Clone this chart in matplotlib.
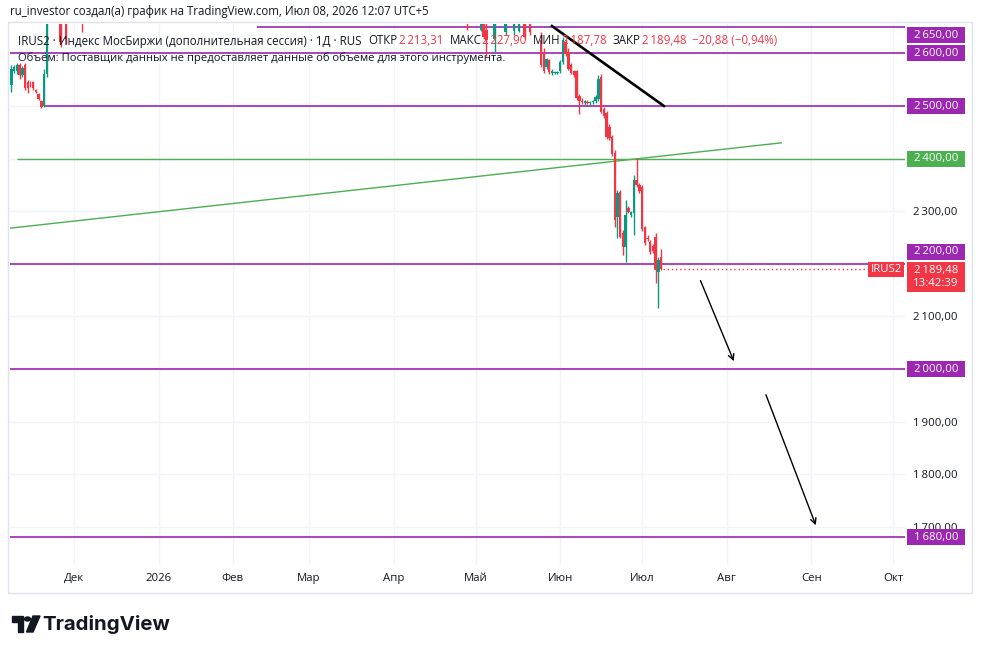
import numpy as np
import pandas as pd
import matplotlib
matplotlib.use("Agg")
import matplotlib.pyplot as plt
import matplotlib.transforms as mtransforms
from matplotlib.patches import Rectangle, Polygon, Circle

plt.rcParams["font.family"] = ["Open Sans", "DejaVu Sans"]
plt.rcParams["font.size"] = 8

RED = "#f23645"
GREEN = "#089981"
PURPLE = "#9c27b0"
LGREEN = "#4caf50"
TXT = "#131722"

# ноябрь 2025, свечи подряд по дням
nov_start = "2025-11-08"
nov_open = [2540, 2566, 2567, 2578, 2559, 2578, 2545, 2542, 2546, 2531, 2522, 2510, 2500, 2560]
nov_high = [2578, 2578, 2582, 2582, 2577, 2582, 2549, 2548, 2548, 2533, 2524, 2512, 2570, 2700]
nov_low = [2526, 2562, 2560, 2551, 2555, 2530, 2524, 2536, 2530, 2524, 2512, 2497, 2498, 2555]
nov_close = [2570, 2575, 2578, 2559, 2572, 2534, 2535, 2541, 2534, 2526, 2514, 2499, 2560, 2690]

# свечи, которые лишь краем видны у верхней границы
top_dates = ["2025-11-26", "2025-11-28", "2025-12-04", "2026-04-28", "2026-05-03", "2026-05-04",
             "2026-05-05", "2026-05-08", "2026-05-12", "2026-05-15", "2026-05-17", "2026-05-19",
             "2026-05-21"]
top_open = [2700, 2710, 2690, 2652, 2645, 2670, 2645, 2628, 2640, 2643, 2643, 2670, 2670]
top_high = [2710, 2720, 2700, 2660, 2660, 2680, 2660, 2680, 2680, 2665, 2670, 2680, 2680]
top_low = [2612, 2618, 2640, 2645, 2642, 2628, 2595, 2600, 2635, 2635, 2640, 2628, 2635]
top_close = [2622, 2628, 2680, 2648, 2655, 2632, 2625, 2670, 2670, 2660, 2665, 2632, 2640]

# 25 мая - 8 июля 2026, подряд по дням
main_start = "2026-05-25"
main_open = [2625, 2600, 2574, 2587, 2562, 2562, 2563,
             2566, 2584, 2621, 2603, 2578, 2566, 2566, 2519, 2510, 2506, 2508, 2505, 2507, 2509, 2513,
             2555, 2494, 2487, 2460, 2441, 2411, 2289, 2336, 2259, 2232, 2306, 2293, 2297, 2359, 2350,
             2346, 2270, 2249, 2241, 2234, 2251, 2184, 2213.31]
main_high = [2640, 2610, 2592, 2590, 2570, 2566, 2567,
             2588, 2631, 2628, 2610, 2582, 2568, 2568, 2522, 2515, 2512, 2511, 2509, 2512, 2521, 2559,
             2560, 2498, 2490, 2465, 2445, 2416, 2340, 2340, 2264, 2321, 2310, 2300, 2369, 2401, 2353,
             2350, 2272, 2254, 2245, 2238, 2259, 2213, 2227.90]
main_low = [2575, 2562, 2570, 2560, 2558, 2560, 2561,
            2563, 2580, 2595, 2568, 2561, 2556, 2512, 2485, 2503, 2502, 2503, 2502, 2504, 2505, 2510,
            2486, 2478, 2438, 2436, 2405, 2270, 2249, 2249, 2217, 2203, 2296, 2289, 2255, 2346, 2334,
            2262, 2236, 2244, 2218, 2220, 2163, 2116, 2187.78]
main_close = [2578, 2566, 2589, 2565, 2566, 2564, 2565,
              2584, 2625, 2599, 2571, 2563, 2559, 2515, 2509, 2508, 2509, 2505, 2507, 2510, 2518, 2551,
              2489, 2481, 2441, 2439, 2408, 2283, 2335, 2251, 2232, 2293, 2298, 2298, 2359, 2350, 2338,
              2266, 2240, 2247, 2222, 2225, 2188, 2207, 2189.48]

# горизонтальные уровни и даты, с которых они начинаются (None - от левого края)
levels = [2650, 2600, 2500, 2400, 2200, 2000, 1680]
level_start = ["2026-02-10", None, "2025-11-20", "2025-11-10", None, None, None]
level_colors = [PURPLE, PURPLE, PURPLE, LGREEN, PURPLE, PURPLE, PURPLE]

trend_green = (["2025-11-01", "2026-08-21"], [2264, 2430])
trend_black = (["2026-05-29", "2026-07-09"], [2652, 2500])
arrows = [(("2026-07-22", 2173), ("2026-08-04", 2010)),
          (("2026-08-15", 1956), ("2026-09-03", 1698))]

month_labels = ["Дек", "2026", "Фев", "Мар", "Апр", "Май", "Июн", "Июл", "Авг", "Сен", "Окт"]
price_ticks = [1700, 1800, 1900, 2000, 2100, 2200, 2300, 2400, 2500, 2600]

last_price = 2189.48
timer = "13:42:39"
header = "ru_investor создал(а) график на TradingView.com, Июл 08, 2026 12:07 UTC+5"
legend_parts = [("IRUS2 · Индекс МосБиржи (дополнительная сессия) · 1Д · RUS", TXT, 0),
                ("ОТКР", TXT, 5), ("2\u2009213,31", RED, 0.8),
                ("МАКС", TXT, 4.5), ("2\u2009227,90", RED, 0.8),
                ("МИН", TXT, 4.5), ("2\u2009187,78", RED, 0.8),
                ("ЗАКР", TXT, 4.5), ("2\u2009189,48", RED, 0.8),
                ("−20,88 (−0,94%)", RED, 4)]
volume_note = "Объём: Поставщик данных не предоставляет данные об объеме для этого инструмента."


def fmt(v):
    s = f"{v:,.2f}".replace(",", "\u2009").replace(".", ",")
    return s


# календарь баров: каждый день, кроме новогодних выходных
days = pd.date_range("2025-11-01", "2026-10-31", freq="D")
holidays = pd.to_datetime(["2026-01-01", "2026-01-02", "2026-01-03", "2026-01-04"])
days = days[~days.isin(holidays)]
pos = pd.Series(np.arange(len(days)), index=days)


def xi(d):
    return pos[pd.Timestamp(d)]


W, H = 982, 654
L, R, T, B = 10, 905, 24, 565
fig = plt.figure(figsize=(W / 100, H / 100), dpi=100)
ax = fig.add_axes([L / W, 1 - B / H, (R - L) / W, (B - T) / H])
ax.set_xlim(6.5, 334.3)
ax.set_ylim(1627.4, 2655.9)
for s in ax.spines.values():
    s.set_visible(False)


def draw_candles(x, o, h, l, c):
    o, h, l, c = map(np.asarray, (o, h, l, c))
    cols = np.where(c >= o, GREEN, RED)
    ax.vlines(x, l, h, colors=cols, lw=1, zorder=3)
    ax.bar(x, np.maximum(np.abs(c - o), 1.5), bottom=np.minimum(o, c), width=0.9,
           color=cols, linewidth=0, zorder=3)


nov_x = [xi(d) for d in pd.date_range(nov_start, periods=len(nov_open))]
draw_candles(nov_x, nov_open, nov_high, nov_low, nov_close)
draw_candles([xi(d) for d in top_dates], top_open, top_high, top_low, top_close)
main_x = [xi(d) for d in pd.date_range(main_start, periods=len(main_open))]
draw_candles(main_x, main_open, main_high, main_low, main_close)

# сетка и оси: первый бар каждого месяца
first_bar = pos.groupby(pos.index.to_period("M")).min()
month_ticks = first_bar.loc["2025-12":"2026-10"].values
ax.set_xticks(month_ticks)
ax.set_xticklabels(month_labels, color=TXT, fontsize=8.2)
ax.set_yticks(price_ticks)
# подписи под цветными плашками уровней не видны
ax.set_yticklabels(["" if p in levels else fmt(p) for p in price_ticks], color=TXT, fontsize=8.2)
ax.yaxis.tick_right()
ax.tick_params(length=0)
ax.tick_params(axis="x", pad=6)
ax.tick_params(axis="y", pad=6)
ax.grid(color="#f0f3fa", lw=1, zorder=0)

# уровни
xmax = ax.get_xlim()[1]
for lv, st, col in zip(levels, level_start, level_colors):
    x0 = xi(st) if st else ax.get_xlim()[0]
    ax.hlines(lv, x0, xmax, color=col, lw=1.2 if col == PURPLE else 1, zorder=2)

ax.plot([xi(d) for d in trend_green[0]], trend_green[1], color=LGREEN, lw=1, zorder=2)
ax.plot([xi(d) for d in trend_black[0]], trend_black[1], color="black", lw=1.9, zorder=4)
for (d0, p0), (d1, p1) in arrows:
    ax.annotate("", xy=(xi(d1), p1), xytext=(xi(d0), p0),
                arrowprops=dict(arrowstyle="->", color="black", lw=1, mutation_scale=10))

# линия текущей цены
ax.hlines(last_price, main_x[-1] + 0.5, xmax, color=RED, lw=1, linestyles=(0, (1, 2)), zorder=2)

trans = mtransforms.blended_transform_factory(ax.transAxes, ax.transData)
ppx = (ax.get_ylim()[1] - ax.get_ylim()[0]) / (B - T)


def box(price, text, color, x0px, x1px, dy_px=0, hpx=16, top_px=None, fs=8.2):
    tr = trans + mtransforms.ScaledTranslation(0, -dy_px / 100, fig.dpi_scale_trans)
    fx0 = (x0px - L) / (R - L)
    fx1 = (x1px - L) / (R - L)
    y0 = price - hpx / 2 * ppx if top_px is None else price + top_px * ppx - hpx * ppx
    ax.add_patch(Rectangle((fx0, y0), fx1 - fx0, hpx * ppx, transform=tr, color=color,
                           clip_on=False, zorder=6, lw=0))
    ax.text((fx0 + fx1) / 2, y0 + hpx * ppx / 2, text, transform=tr, ha="center", va="center",
            color="white", fontsize=fs, clip_on=False, zorder=7, linespacing=1.25)


label_shift = {2650: 8, 2200: -12}
for lv, col in zip(levels, level_colors):
    box(lv, fmt(lv), col, 907, 965, dy_px=label_shift.get(lv, 0))

box(last_price, fmt(last_price) + "\n" + timer, RED, 907, 965, hpx=30, top_px=7)
box(last_price, "IRUS2", RED, 868, 904, hpx=15)

# легенда внутри панели
fs = 8.3
t = ax.text(18 / W, 1 - 41 / H, legend_parts[0][0], color=legend_parts[0][1], fontsize=fs,
            transform=fig.transFigure, va="center", zorder=8)
for txt, col, gap in legend_parts[1:]:
    t = ax.annotate(txt, xy=(1, 0), xycoords=t, xytext=(gap, 0), textcoords="offset points",
                    ha="left", va="bottom", color=col, fontsize=fs, zorder=8)
fig.text(18 / W, 1 - 58 / H, volume_note, color=TXT, fontsize=8.15, va="center")

fig.text(10 / W, 1 - 12 / H, header, color=TXT, fontsize=8.3, va="center")

# рамка графика
fig.patches.append(Rectangle((8 / W, 1 - 593 / H), 964 / W, 571 / H, transform=fig.transFigure,
                             fill=False, ec="#e0e3eb", lw=1))

# логотип TradingView
def fp(x, y):
    return (x / W, 1 - y / H)


fig.patches.append(Polygon([fp(12, 616), fp(23, 616), fp(23, 632), fp(17.5, 632), fp(17.5, 621.5),
                            fp(12, 621.5)], closed=True, transform=fig.transFigure, color="#131722"))
fig.patches.append(Circle(fp(27.5, 619), 3 / W, transform=fig.transFigure, color="#131722"))
fig.patches.append(Polygon([fp(33, 616), fp(40, 616), fp(33, 632), fp(26.5, 632)], closed=True,
                           transform=fig.transFigure, color="#131722"))
fig.text(42 / W, 1 - 624 / H, "TradingView", fontsize=14.7, fontweight="bold", color="#131722",
         va="center", family=["Inter", "DejaVu Sans"])

fig.savefig("out.png", dpi=100)
